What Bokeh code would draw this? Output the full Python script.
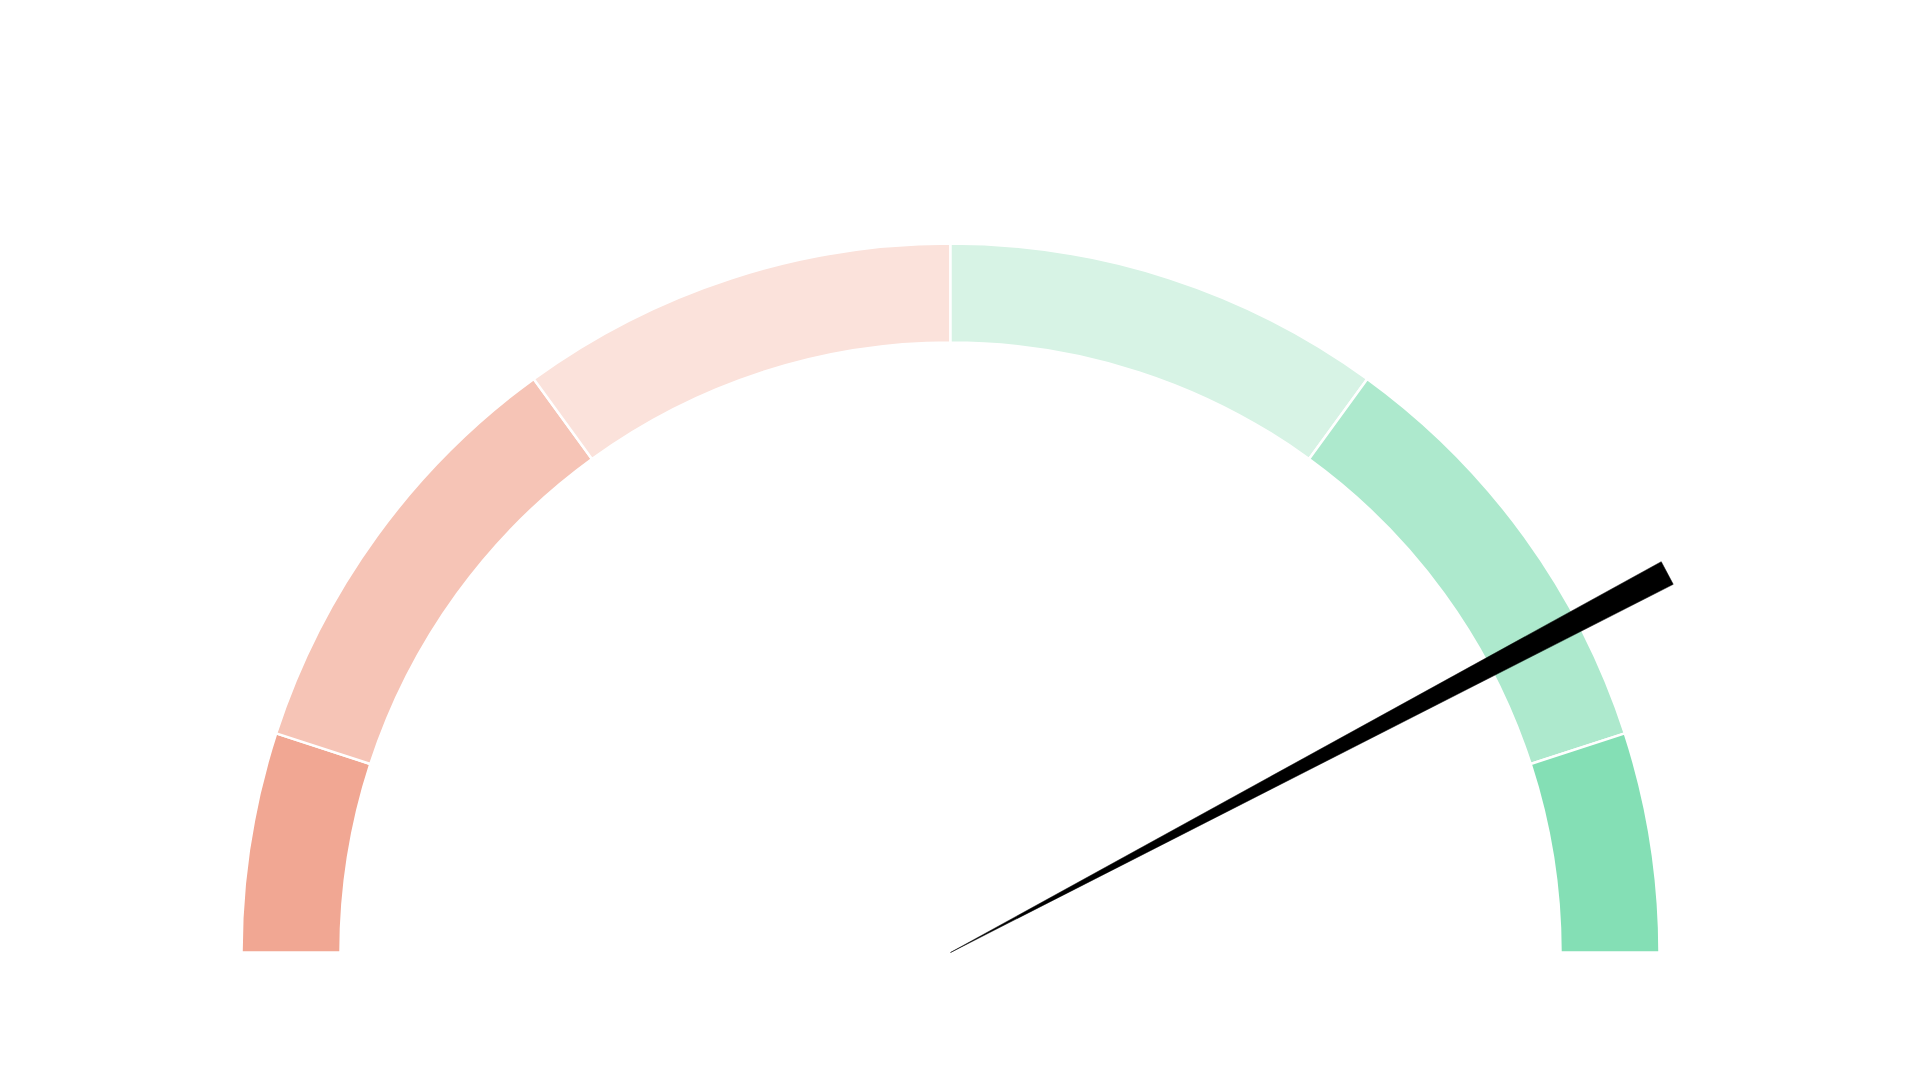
import math
from bokeh.plotting import figure
from bokeh.embed import file_html
from bokeh.resources import INLINE

# Data
band_bounds = [0, 10, 30, 50, 70, 90, 100]
band_colors = ["#F1A793", "#F6C4B6", "#FBE2DB", "#D7F3E5", "#ADE9CD", "#84DFB5"]
gauge_min = 0
gauge_max = 100
needle_value = 84.5

W, H = 1904, 1064
R_OUT, R_IN = 709, 610
NEEDLE_LEN = 811
NEEDLE_HALF = 12.8

p = figure(width=W, height=H, output_backend="svg", toolbar_location=None,
           x_range=(-950, 954), y_range=(-112, 952), min_border=0,
           outline_line_color=None)
p.axis.visible = False
p.grid.visible = False
p.background_fill_color = "white"


def ang(v):
    return math.pi * (1 - (v - gauge_min) / (gauge_max - gauge_min))


starts = [ang(b) for b in band_bounds[1:]]
ends = [ang(b) for b in band_bounds[:-1]]
p.annular_wedge(x=[0] * len(band_colors), y=[0] * len(band_colors),
                inner_radius=R_IN, outer_radius=R_OUT,
                start_angle=starts, end_angle=ends,
                fill_color=band_colors, line_color="white", line_width=2.5)

a = ang(needle_value)
tx, ty = NEEDLE_LEN * math.cos(a), NEEDLE_LEN * math.sin(a)
nx, ny = -math.sin(a), math.cos(a)
p.patch(x=[0, tx + NEEDLE_HALF * nx, tx - NEEDLE_HALF * nx],
        y=[0, ty + NEEDLE_HALF * ny, ty - NEEDLE_HALF * ny],
        fill_color="black", line_color="black", line_width=0.5)

open("out.html", "w").write(file_html(p, INLINE))
